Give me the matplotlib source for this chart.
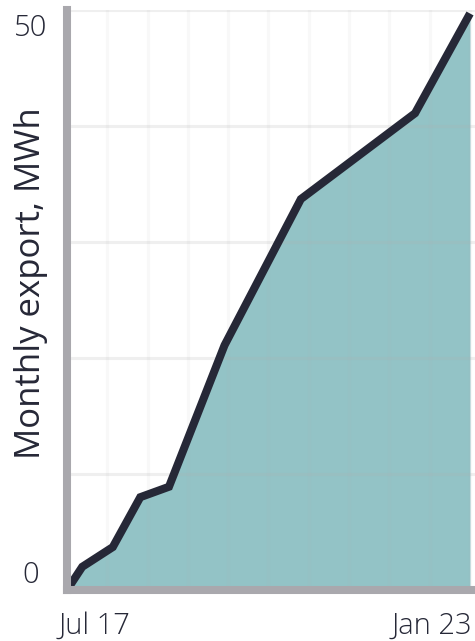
import matplotlib
matplotlib.use("Agg")
import matplotlib.pyplot as plt
import matplotlib.transforms as mtransforms

# Months since Jul 2017 and cumulative export values (MWh)
months = [0, 2.5, 7.5, 12, 16.7, 25.8, 38.3, 57, 66]
export_mwh = [0, 2.0, 3.7, 8.0, 8.9, 21.1, 33.7, 41.1, 49.7]
x_tick_pos = [0, 66]
x_tick_labels = ["Jul 17", "Jan 23"]
y_tick_pos = [0, 50]
y_tick_labels = ["0", "50"]
y_grid = [10, 20, 30, 40, 50]
y_label = "Monthly export, MWh"

plt.rcParams['font.family'] = ['Open Sans', 'DejaVu Sans']
plt.rcParams['font.weight'] = 'light'
text_color = '#262837'

fig = plt.figure(figsize=(4.75, 6.41), dpi=100)
W, H = 475, 641
left, right, bottom, top = 67 / W, 1.0, (H - 590) / H, (H - 10) / H
ax = fig.add_axes([left, bottom, right - left, top - bottom])

ax.fill_between(months, export_mwh, 0, color='#93c3c6', zorder=1, linewidth=0)
ax.plot(months, export_mwh, color='#262837', linewidth=5.8, zorder=3,
        solid_joinstyle='miter', solid_capstyle='butt')

# grid
n_v = 10
for i in range(1, n_v + 1):
    ax.axvline(x_tick_pos[0] + (x_tick_pos[1] - x_tick_pos[0]) * i / n_v,
               color='#b0b0b0', alpha=0.08, linewidth=2.2, zorder=2)
for g in y_grid:
    ax.axhline(g, color='#b0b0b0', alpha=0.2, linewidth=2.2, zorder=2)

ax.set_xlim(0, 66 + 5 / 6.106)
ax.set_ylim(0, 50)

for s in ['top', 'right']:
    ax.spines[s].set_visible(False)
for s in ['left', 'bottom']:
    ax.spines[s].set_color('#a9a8ad')
    ax.spines[s].set_linewidth(5.8)
    ax.spines[s].set_zorder(4)

ax.set_xticks(x_tick_pos)
ax.set_xticklabels(x_tick_labels)
ax.set_yticks(y_tick_pos)
ax.set_yticklabels(y_tick_labels)
ax.tick_params(axis='both', length=0, labelcolor=text_color, labelsize=21)
ax.tick_params(axis='x', pad=15)
ax.tick_params(axis='y', pad=26)

xl = ax.get_xticklabels()
xl[0].set_horizontalalignment('left')
xl[0].set_transform(xl[0].get_transform() + mtransforms.ScaledTranslation(-8 / 100, 0, fig.dpi_scale_trans))
xl[1].set_horizontalalignment('right')
xl[1].set_transform(xl[1].get_transform() + mtransforms.ScaledTranslation(2 / 100, 0, fig.dpi_scale_trans))

yl = ax.get_yticklabels()
yl[0].set_verticalalignment('bottom')
yl[1].set_verticalalignment('top')
yl[1].set_transform(yl[1].get_transform() + mtransforms.ScaledTranslation(0, -4 / 100, fig.dpi_scale_trans))
for t in yl:
    t.set_horizontalalignment('center')

ax.set_ylabel(y_label, fontsize=25, color=text_color)
ax.yaxis.set_label_coords((31 - 67) / (475 - 67), (590 - 283) / 580)
ax.yaxis.label.set_verticalalignment('center')

fig.savefig('out.png', dpi=100)
